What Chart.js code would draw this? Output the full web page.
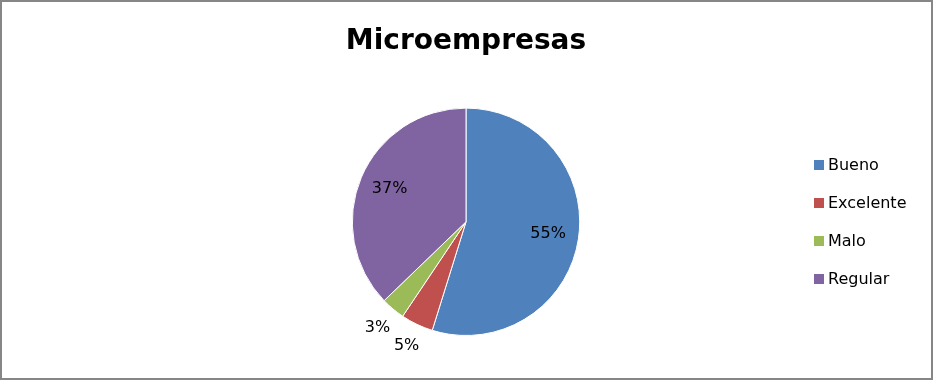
<!DOCTYPE html>
<html>
<head>
<meta charset="utf-8">
<title>Microempresas</title>
<script src="https://cdn.jsdelivr.net/npm/chart.js@4/dist/chart.umd.min.js"></script>
<style>
  body { margin: 0; background: #fff; }
  canvas { display: block; }
</style>
</head>
<body>
<canvas id="pie" width="933" height="380"></canvas>
<script>
// Datos del grafico
var Categorias = ["Bueno", "Excelente", "Malo", "Regular"];
var Porcentajes = [54.8, 4.6, 3.4, 37.2];
var Colores = ["#4F81BD", "#C0504D", "#9BBB59", "#8064A2"];
var Titulo = "Microempresas";

var Fuente = "'DejaVu Sans', sans-serif";

// Marco gris alrededor
var marco = {
  id: "marco",
  beforeDraw(chart) {
    const ctx = chart.ctx;
    ctx.save();
    ctx.fillStyle = "#fff";
    ctx.fillRect(0, 0, chart.width, chart.height);
    ctx.restore();
  },
  afterDraw(chart) {
    const ctx = chart.ctx;
    ctx.save();
    ctx.strokeStyle = "#868686";
    ctx.lineWidth = 2;
    ctx.strokeRect(1, 1, chart.width - 2, chart.height - 2);
    ctx.restore();
  }
};

// Etiquetas de porcentaje
var etiquetas = {
  id: "etiquetas",
  afterDatasetsDraw(chart) {
    const ctx = chart.ctx;
    const meta = chart.getDatasetMeta(0);
    ctx.save();
    ctx.font = "16px " + Fuente;
    ctx.fillStyle = "#000";
    ctx.textAlign = "center";
    ctx.textBaseline = "middle";
    meta.data.forEach((arc, i) => {
      const v = chart.data.datasets[0].data[i];
      const mid = (arc.startAngle + arc.endAngle) / 2;
      let r;
      if (v >= 10) {
        r = arc.outerRadius * 0.73;
      } else {
        r = arc.outerRadius + 24;
      }
      const x = arc.x + Math.cos(mid) * r;
      const y = arc.y + Math.sin(mid) * r;
      ctx.fillText(Math.round(v) + "%", x, y);
    });
    ctx.restore();
  }
};

// Leyenda a la derecha
var leyenda = {
  id: "leyenda",
  afterDraw(chart) {
    const ctx = chart.ctx;
    ctx.save();
    ctx.font = "16px " + Fuente;
    ctx.textAlign = "left";
    ctx.textBaseline = "middle";
    chart.data.labels.forEach((lab, i) => {
      const y = 165 + i * 38;
      ctx.fillStyle = chart.data.datasets[0].backgroundColor[i];
      ctx.fillRect(814, y - 5, 10, 10);
      ctx.fillStyle = "#000";
      ctx.fillText(lab, 828, y + 1);
    });
    ctx.restore();
  }
};

var MiGrafico = new Chart("pie", {
  type: "pie",
  data: {
    labels: Categorias,
    datasets: [{
      data: Porcentajes,
      backgroundColor: Colores,
      borderColor: "#fff",
      borderWidth: 1
    }]
  },
  options: {
    responsive: false,
    animation: false,
    devicePixelRatio: 1,
    layout: { padding: { left: 0, right: 1, top: 0, bottom: 44 } },
    plugins: {
      legend: { display: false },
      tooltip: { enabled: false },
      title: {
        display: true,
        text: Titulo,
        color: "#000",
        font: { family: Fuente, size: 28, weight: "bold" },
        padding: { top: 25, bottom: 49 }
      }
    }
  },
  plugins: [marco, etiquetas, leyenda]
});
</script>
</body>
</html>
